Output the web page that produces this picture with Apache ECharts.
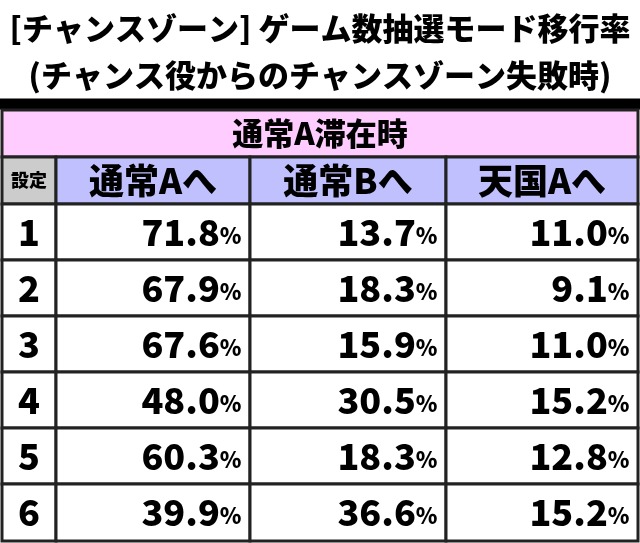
<!DOCTYPE html><html><head><meta charset="utf-8"><script src="https://cdn.jsdelivr.net/npm/echarts@6/dist/echarts.min.js"></script>
<style>html,body{margin:0;background:#fff}#c{width:640px;height:543px}</style></head><body><div id="c"></div><script>
const titleLines=['[チャンスゾーン] ゲーム数抽選モード移行率','(チャンス役からのチャンスゾーン失敗時)'];
const groupHeader='通常A滞在時';
const settingLabel='設定';
const columns=['通常Aへ','通常Bへ','天国Aへ'];
const settings=['1','2','3','4','5','6'];
const toNormalA=[71.8,67.9,67.6,48.0,60.3,39.9];
const toNormalB=[13.7,18.3,15.9,30.5,18.3,36.6];
const toHeavenA=[11.0,9.1,11.0,15.2,12.8,15.2];

const colX=[2,56,250,446,638];
const rowY=[110,157,204,260,316,372,428,484,541];
const F='"Noto Sans CJK JP","Noto Sans",sans-serif';
const W=900;
const cols=[toNormalA,toNormalB,toHeavenA];
const cells=[];
cells.push({x0:0,x1:640,y0:100,y1:108,fill:'#000',stroke:'#000',text:''});
cells.push({x0:colX[0],x1:colX[4],y0:rowY[0],y1:rowY[1],fill:'#ffccff',text:groupHeader,size:31,align:'center'});
cells.push({x0:colX[0],x1:colX[1],y0:rowY[1],y1:rowY[2],fill:'#cccccc',text:settingLabel,size:18,align:'center'});
columns.forEach((c,i)=>cells.push({x0:colX[i+1],x1:colX[i+2],y0:rowY[1],y1:rowY[2],fill:'#c0c0ff',text:c,size:35,align:'center'}));
settings.forEach((s,r)=>{
  cells.push({x0:colX[0],x1:colX[1],y0:rowY[r+2],y1:rowY[r+3],fill:'#fff',text:s,size:36,align:'center'});
  cols.forEach((arr,i)=>cells.push({x0:colX[i+1],x1:colX[i+2],y0:rowY[r+2],y1:rowY[r+3],fill:'#fff',val:arr[r],align:'right'}));
});
const chart=echarts.init(document.getElementById('c'));
chart.setOption({
  animation:false,backgroundColor:'#fff',
  title:[{text:titleLines[0],left:'center',top:8,textStyle:{fontFamily:F,fontWeight:W,fontSize:31,color:'#000'}},
         {text:titleLines[1],left:'center',top:55,textStyle:{fontFamily:F,fontWeight:W,fontSize:31,color:'#000'}}],
  grid:{left:0,right:0,top:0,bottom:0},
  xAxis:{type:'value',min:0,max:640,show:false},
  yAxis:{type:'value',min:0,max:543,inverse:true,show:false},
  series:[{type:'custom',data:cells.map((c,i)=>[i]),renderItem:(p,api)=>{
    const c=cells[api.value(0)];
    const a=api.coord([c.x0,c.y0]),b=api.coord([c.x1,c.y1]);
    const txt=c.val!==undefined?'{n|'+c.val.toFixed(1)+'}{p|%}':c.text;
    return {type:'rect',shape:{x:a[0],y:a[1],width:b[0]-a[0],height:b[1]-a[1]},
      style:{fill:c.fill,stroke:c.stroke||'#222',lineWidth:3},
      textContent:{style:{text:txt,fontFamily:F,fontWeight:W,fontSize:c.size||34,fill:'#000',
        rich:{n:{fontFamily:F,fontWeight:W,fontSize:36,fill:'#000'},p:{fontFamily:F,fontWeight:W,fontSize:22,fill:'#000',padding:[7,0,0,0]}}}},
      textConfig:{position:c.align==='right'?'insideRight':'inside',distance:10}};
  }}]
});
</script></body></html>
